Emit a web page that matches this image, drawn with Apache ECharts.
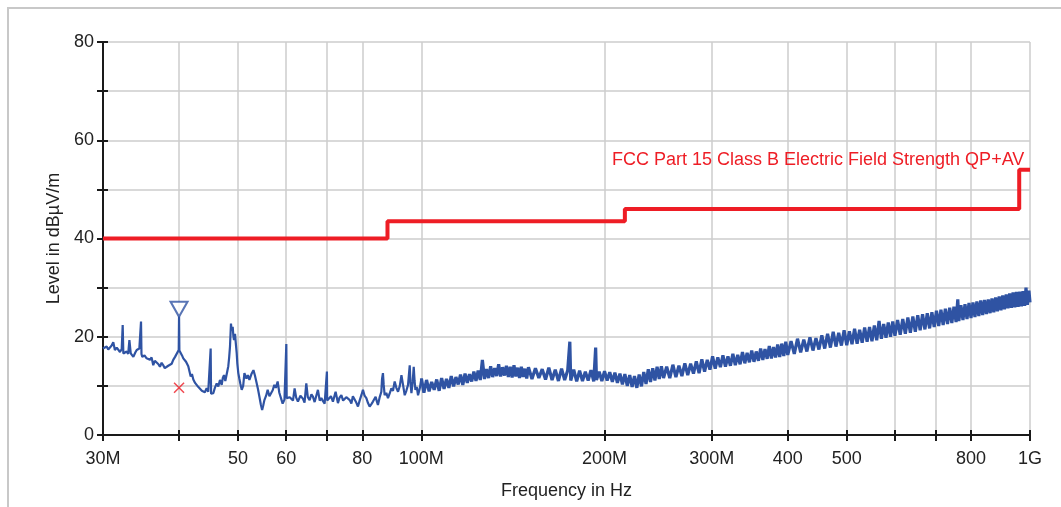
<!DOCTYPE html>
<html lang="en">
<head>
    <meta charset="UTF-8">
    <title>FCC Part 15 Class B scan</title>
    <script src="https://cdn.jsdelivr.net/npm/echarts@6/dist/echarts.min.js"></script>
    <style>
        html, body { margin: 0; padding: 0; background: #fff; }
        #pic { width: 1061px; height: 507px; }
    </style>
</head>
<body>
    <div id="pic"></div>
    <script>
        // frequencies in MHz, levels in dBuV/m
        var xLabelFreqs = [30, 50, 60, 80, 100, 200, 300, 400, 500, 800, 1000];
        var xLabelTexts = ['30M', '50', '60', '80', '100M', '200M', '300M', '400', '500', '800', '1G'];
        var xTickFreqs = [30, 40, 50, 60, 70, 80, 100, 200, 300, 400, 500, 600, 700, 800, 1000];

        var limitLine = [[30, 40], [88, 40], [88, 43.5], [216, 43.5], [216, 46], [960, 46], [960, 54], [1000, 54]];
        var limitName = 'FCC Part 15 Class B Electric Field Strength QP+AV';

        var peakMarker = [[40, 25.6]];
        var qpMarker = [[40, 9.6]];

        // 30 - 40 MHz
        var traceA = [[30.00, 17.6], [30.20, 17.2], [30.42, 18.0], [30.60, 17.4], [30.80, 17.3], [31.00, 18.2], [31.19, 18.9], [31.38, 17.3],
            [31.60, 17.8], [31.78, 18.0], [31.99, 16.9], [32.20, 17.5], [32.32, 22.4], [32.40, 16.6], [32.48, 16.3], [32.81, 17.0], [33.00, 16.5],
            [33.15, 19.3], [33.32, 16.6], [33.50, 16.9], [33.65, 15.9], [33.90, 16.8], [34.08, 17.3], [34.42, 17.6], [34.64, 23.1], [34.70, 16.5],
            [34.81, 15.9], [35.10, 16.2], [35.38, 15.6], [35.60, 16.0], [35.83, 15.3], [36.05, 15.8], [36.28, 14.2], [36.50, 15.1], [36.75, 14.9],
            [37.00, 14.4], [37.21, 13.9], [37.45, 14.7], [37.68, 14.2], [37.90, 13.6], [38.17, 13.2], [38.40, 14.1], [38.65, 13.9], [38.90, 14.5],
            [39.13, 15.3], [39.40, 15.9], [39.65, 16.3], [39.95, 17.3]];

        // 40 - 51 MHz
        var traceB = [[40.00, 24.1], [40.05, 17.2], [40.25, 17.0], [40.45, 16.2], [40.65, 15.6], [41.07, 14.9], [41.42, 14.0], [41.80, 11.9],
            [42.00, 12.4], [42.22, 11.3], [42.50, 10.6], [42.76, 10.2], [43.00, 9.8], [43.30, 9.5], [43.60, 9.0], [43.84, 9.2], [44.10, 8.7],
            [44.40, 9.5], [44.67, 8.8], [45.00, 9.0], [45.08, 17.6], [45.15, 8.4], [45.30, 8.1], [45.53, 8.5], [45.80, 9.6], [46.12, 10.5],
            [46.40, 9.9], [46.70, 11.2], [47.00, 10.2], [47.20, 11.6], [47.41, 12.2], [47.65, 11.0], [47.90, 11.2], [48.19, 14.0], [48.35, 15.8],
            [48.50, 18.0], [48.68, 22.7], [48.80, 21.3], [49.00, 22.0], [49.12, 20.2], [49.24, 19.3], [49.43, 20.6], [49.60, 18.4], [49.75, 16.6],
            [49.86, 14.6], [50.05, 12.6], [50.24, 11.5], [50.45, 10.4], [50.70, 9.2]];

        // 51 - 100 MHz
        var traceC = [[50.98, 10.0], [51.22, 12.6], [51.61, 11.5], [51.90, 12.2], [52.20, 11.2], [52.60, 12.4], [53.00, 13.2], [53.30, 12.1],
            [53.55, 11.0], [53.90, 9.4], [54.21, 7.8], [54.50, 6.2], [54.77, 5.1], [55.00, 6.0], [55.24, 7.1], [55.60, 8.0], [55.93, 9.2],
            [56.30, 7.9], [56.65, 8.5], [57.00, 9.1], [57.36, 10.2], [57.70, 9.6], [58.08, 10.9], [58.45, 8.6], [58.83, 9.0], [59.19, 6.4],
            [59.60, 7.2], [60.02, 18.5], [60.10, 7.5], [60.38, 7.1], [60.80, 7.7], [61.16, 8.1], [61.55, 7.0], [61.93, 9.5], [62.30, 7.6],
            [62.71, 6.8], [63.30, 8.0], [63.90, 7.4], [64.30, 6.6], [64.73, 10.5], [65.10, 7.7], [65.55, 7.1], [66.00, 8.3], [66.37, 7.8],
            [66.80, 6.7], [67.23, 6.8], [67.64, 9.2], [68.10, 7.0], [68.52, 7.5], [68.95, 6.9], [69.38, 6.4], [69.98, 12.9], [70.05, 7.0],
            [70.51, 7.1], [71.05, 7.9], [71.59, 6.8], [72.32, 8.8], [72.96, 6.5], [73.40, 7.6], [73.91, 8.1], [74.40, 7.0], [74.84, 6.8],
            [75.30, 7.7], [75.78, 8.1], [76.30, 7.1], [76.76, 6.4], [77.20, 7.9], [77.72, 7.5], [78.20, 6.6], [78.70, 5.8], [79.20, 7.0],
            [79.72, 8.1], [80.20, 9.2], [80.70, 8.0], [81.24, 7.5], [81.75, 6.5], [82.26, 5.8], [82.80, 6.3], [83.29, 6.8], [84.14, 7.8],
            [84.50, 6.9], [84.88, 6.1], [85.40, 7.6], [85.98, 8.8], [86.20, 11.4], [86.50, 12.6], [86.75, 10.2], [87.06, 8.1], [87.60, 8.6],
            [88.16, 7.5], [88.70, 8.4], [89.30, 9.5], [89.85, 9.0], [90.43, 10.9], [91.00, 9.6], [91.58, 8.8], [92.20, 10.0], [92.77, 12.2],
            [93.30, 10.3], [93.93, 8.1], [94.50, 9.0], [95.11, 10.2], [95.72, 14.2], [96.00, 10.6], [96.34, 8.5], [96.80, 10.8], [97.18, 13.9],
            [97.50, 11.0], [97.81, 9.2], [98.30, 9.8], [98.78, 8.1], [99.40, 9.4], [100.05, 11.5]];

        // 100 - 250 MHz
        var traceD = [[101, 8.6], [102, 11.2], [103, 8.9], [104, 10.8], [105, 9.2], [106, 11.3], [107, 9.0], [108, 11.6], [109, 9.4], [110, 11.4],
            [111, 9.6], [112, 12.0], [113, 9.9], [114, 11.8], [115, 10.3], [116, 12.3], [117, 10.2], [118, 12.5], [119, 10.6], [120, 12.4],
            [121, 10.9], [122, 12.9], [123, 11.0], [124, 13.1], [125, 11.2], [126, 15.3], [127, 11.4], [128, 13.4], [129, 11.6], [130, 14.0],
            [131, 11.8], [132, 13.6], [133, 12.0], [134, 14.4], [135, 11.9], [136, 13.8], [137, 12.1], [138, 14.1], [139, 11.8], [140, 13.9],
            [141, 11.7], [142, 14.2], [143, 11.9], [144, 13.7], [145, 11.6], [146, 13.9], [147, 11.8], [148, 13.5], [149, 11.5], [150, 13.8],
            [152, 11.4], [154, 13.6], [156, 11.6], [158, 13.4], [160, 11.3], [162, 13.7], [164, 11.2], [166, 13.3], [168, 11.0], [170, 13.5],
            [172, 11.2], [174, 13.2], [175.4, 19.0], [176, 11.1], [178, 13.3], [180, 10.9], [182, 13.1], [184, 11.0], [186, 12.9], [188, 11.1],
            [190, 13.2], [192, 10.9], [193.4, 17.8], [194, 11.2], [196, 12.9], [198, 11.0], [200, 13.0], [202, 11.1], [204, 12.8], [206, 10.8],
            [208, 12.7], [210, 10.6], [212, 12.5], [214, 10.3], [216, 12.4], [218, 10.0], [220, 12.2], [222, 9.8], [224, 12.0], [226, 9.6],
            [228, 12.3], [230, 9.9], [232, 12.8], [234, 10.4], [236, 13.4], [238, 10.8], [240, 13.6], [242, 11.1], [244, 13.9], [246, 11.4],
            [248, 14.0], [250, 11.6]];

        // 250 - 600 MHz
        var traceE = [[253, 13.9], [256, 11.6], [259, 14.3], [262, 11.8], [265, 14.1], [268, 12.0], [271, 14.6], [274, 12.2], [277, 14.5],
            [280, 12.5], [283, 15.0], [286, 12.6], [289, 15.4], [292, 12.9], [295, 15.3], [298, 13.3], [301, 16.0], [304, 13.5], [307, 15.8],
            [310, 13.8], [313, 16.2], [316, 13.9], [319, 16.0], [322, 14.1], [325, 16.5], [328, 14.2], [331, 16.3], [334, 14.4], [337, 16.9],
            [340, 14.6], [343, 16.7], [346, 14.8], [349, 17.2], [352, 14.9], [355, 17.0], [358, 15.1], [361, 17.6], [364, 15.3], [367, 17.5],
            [370, 15.5], [373, 18.1], [376, 15.6], [379, 17.9], [382, 15.8], [385, 18.4], [388, 15.9], [391, 18.6], [394, 16.1], [397, 19.0],
            [400, 16.3], [405, 19.1], [410, 16.5], [415, 19.6], [420, 16.8], [425, 19.4], [430, 17.0], [435, 19.9], [440, 17.2], [445, 19.7],
            [450, 17.4], [455, 20.3], [460, 17.6], [465, 20.6], [470, 17.8], [475, 21.0], [480, 18.0], [485, 20.8], [490, 18.2], [495, 21.3],
            [500, 18.3], [505, 21.1], [510, 18.5], [515, 21.6], [520, 18.6], [525, 21.4], [530, 18.8], [535, 21.9], [540, 19.0], [545, 22.0],
            [550, 19.1], [555, 22.3], [560, 19.3], [565, 23.2], [570, 19.6], [575, 22.6], [580, 19.8], [585, 22.9], [590, 20.0], [595, 23.1],
            [600, 20.2]];

        // 600 MHz - 1 GHz
        var traceF = [[606, 23.4], [612, 20.4], [618, 23.6], [624, 20.6], [630, 23.9], [636, 20.8], [642, 24.1], [648, 21.0], [654, 24.4],
            [660, 21.3], [666, 24.6], [672, 21.5], [678, 24.8], [684, 21.7], [690, 25.0], [696, 22.0], [702, 25.3], [708, 22.2], [714, 25.5],
            [720, 22.4], [726, 25.7], [732, 22.6], [738, 25.9], [744, 22.8], [750, 26.1], [756, 23.0], [761, 27.6], [764, 23.2], [770, 26.4],
            [776, 23.4], [782, 26.6], [788, 23.6], [794, 26.9], [800, 23.8], [806, 27.0], [812, 24.0], [818, 27.2], [824, 24.2], [830, 27.4],
            [836, 24.4], [842, 27.5], [848, 24.6], [854, 27.6], [860, 24.8], [866, 27.8], [872, 25.0], [878, 28.0], [884, 25.2], [890, 28.2],
            [896, 25.4], [902, 28.4], [908, 25.6], [914, 28.6], [920, 25.8], [926, 28.8], [932, 25.9], [938, 29.0], [944, 26.0], [950, 29.1],
            [956, 26.1], [962, 29.2], [968, 26.2], [974, 29.3], [980, 26.3], [985, 30.0], [990, 26.5], [996, 29.4], [1000, 27.0]];

        var FONT = '"Liberation Sans", Arial, sans-serif';
        var BLUE = '#2f53a3';
        var RED = '#ee1d25';

        function lg(f) { return Math.log10(f); }
        function toLog(arr) { return arr.map(function (d) { return [lg(d[0]), d[1]]; }); }

        // the low band is a thin line, the upper band is a dense noise band
        var traceLow = toLog([].concat(traceA, traceB, traceC));
        var traceHigh = toLog([traceC[traceC.length - 1]].concat(traceD, traceE, traceF));
        var xMin = lg(30), xMax = lg(1000);

        var myChart = echarts.init(document.getElementById('pic'));

        var option = {
            animation: false,
            backgroundColor: '#fff',
            title: {
                text: limitName,
                left: 612, top: 151, padding: 0,
                textStyle: { color: RED, fontSize: 18, fontWeight: 'normal', fontFamily: FONT }
            },
            graphic: [{
                type: 'polyline',
                shape: { points: [[8, 507], [8, 8], [1061, 8]] },
                style: { stroke: '#c8c8c8', lineWidth: 2, fill: null },
                silent: true
            }],
            grid: { left: 103, right: 31, top: 42, bottom: 72 },
            xAxis: [{
                type: 'value', min: xMin, max: xMax, position: 'bottom',
                name: 'Frequency in Hz', nameLocation: 'middle', nameGap: 47,
                nameTextStyle: { color: '#222', fontSize: 18, fontFamily: FONT },
                axisLine: { show: true, lineStyle: { color: '#1a1a1a', width: 2 } },
                axisTick: { show: true, length: 6, lineStyle: { color: '#1a1a1a', width: 2 }, customValues: xTickFreqs.map(lg) },
                axisLabel: {
                    color: '#222', fontSize: 18, fontFamily: FONT, margin: 15,
                    customValues: xLabelFreqs.map(lg),
                    formatter: function (v) {
                        for (var i = 0; i < xLabelFreqs.length; i++) {
                            if (Math.abs(lg(xLabelFreqs[i]) - v) < 1e-6) return xLabelTexts[i];
                        }
                        return '';
                    }
                },
                splitLine: { show: true, lineStyle: { color: '#cccccc', width: 1.5 } }
            }, {
                type: 'value', min: xMin, max: xMax, position: 'bottom', gridIndex: 0,
                axisLine: { show: false },
                axisTick: { show: true, inside: true, length: 5, lineStyle: { color: '#1a1a1a', width: 2 }, customValues: xTickFreqs.map(lg) },
                axisLabel: { show: false },
                splitLine: { show: false }
            }],
            yAxis: [{
                type: 'value', min: 0, max: 80, interval: 10,
                name: 'Level in dBµV/m', nameLocation: 'middle', nameGap: 40,
                nameTextStyle: { color: '#222', fontSize: 18, fontFamily: FONT },
                axisLine: { show: true, lineStyle: { color: '#1a1a1a', width: 2 } },
                axisTick: { show: true, length: 6, lineStyle: { color: '#1a1a1a', width: 2 } },
                axisLabel: {
                    color: '#222', fontSize: 18, fontFamily: FONT, margin: 9,
                    formatter: function (v) { return v % 20 === 0 ? String(v) : ''; }
                },
                splitLine: { show: true, lineStyle: { color: '#cccccc', width: 1.5 } }
            }, {
                type: 'value', min: 0, max: 80, interval: 10, position: 'left', gridIndex: 0,
                axisLine: { show: false },
                axisTick: { show: true, inside: true, length: 5, lineStyle: { color: '#1a1a1a', width: 2 } },
                axisLabel: { show: false },
                splitLine: { show: false }
            }],
            series: [{
                name: 'limit',
                type: 'line',
                data: toLog(limitLine),
                showSymbol: false,
                lineStyle: { color: RED, width: 4 },
                z: 3
            }, {
                name: 'trace low',
                type: 'line',
                data: traceLow,
                showSymbol: false,
                lineStyle: { color: BLUE, width: 2.2 },
                z: 4
            }, {
                name: 'trace high',
                type: 'line',
                data: traceHigh,
                showSymbol: false,
                lineStyle: { color: BLUE, width: 3.2 },
                z: 4
            }, {
                name: 'peak',
                type: 'scatter',
                data: toLog(peakMarker),
                symbol: 'triangle',
                symbolRotate: 180,
                symbolSize: [17, 15],
                itemStyle: { color: '#fff', borderColor: BLUE, borderWidth: 2 },
                z: 5
            }, {
                name: 'qp',
                type: 'scatter',
                data: toLog(qpMarker),
                symbol: 'path://M0,0L10,10M10,0L0,10',
                symbolSize: 10,
                itemStyle: { color: 'none', borderColor: RED, borderWidth: 1.5 },
                z: 5
            }]
        };

        myChart.setOption(option);
    </script>
</body>
</html>
